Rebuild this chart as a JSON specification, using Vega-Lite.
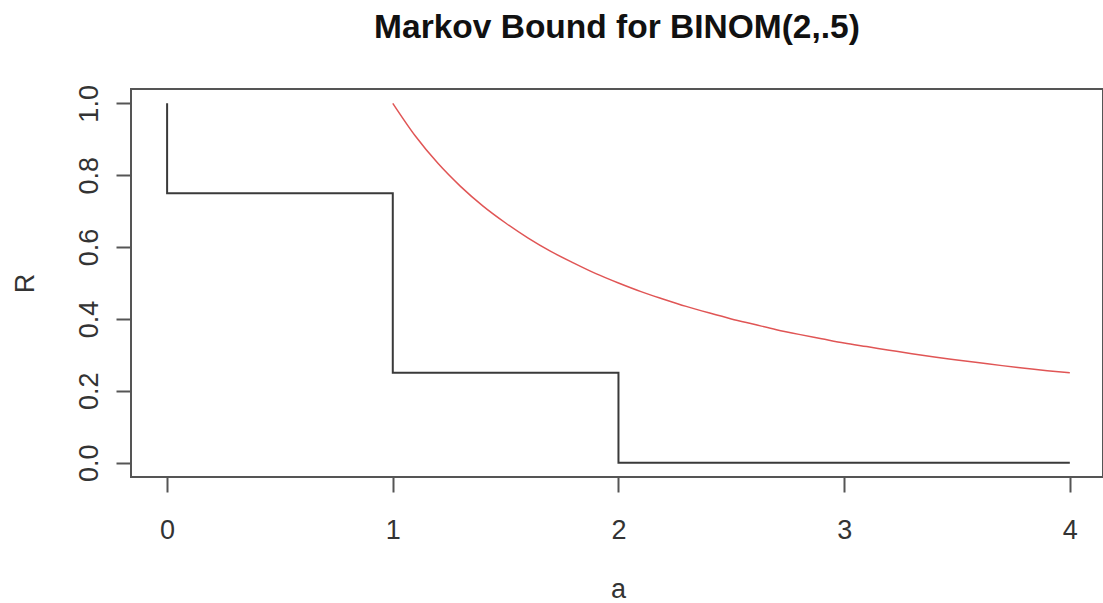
{
  "$schema": "https://vega.github.io/schema/vega-lite/v6.json",
  "width": 972,
  "height": 388,
  "autosize": "none",
  "padding": {"left": 131, "top": 89, "right": 0, "bottom": 126},
  "background": "white",
  "title": {
    "text": "Markov Bound for BINOM(2,.5)",
    "font": "Liberation Sans",
    "fontSize": 33.5,
    "fontWeight": "bold",
    "color": "#111",
    "baseline": "alphabetic",
    "offset": 13,
    "anchor": "middle"
  },
  "config": {
    "view": {"stroke": "#555", "strokeWidth": 2},
    "axis": {
      "labelFont": "Liberation Sans",
      "titleFont": "Liberation Sans",
      "labelFontSize": 27,
      "titleFontSize": 27,
      "labelColor": "#333",
      "titleColor": "#333",
      "titleFontWeight": "normal",
      "tickColor": "#555",
      "tickWidth": 2,
      "tickSize": 15,
      "domain": false,
      "grid": false
    }
  },
  "datasets": {
    "step": [
      {"i": 0, "a": 0, "R": 1},
      {"i": 1, "a": 0, "R": 0.75},
      {"i": 2, "a": 1, "R": 0.75},
      {"i": 3, "a": 1, "R": 0.25},
      {"i": 4, "a": 2, "R": 0.25},
      {"i": 5, "a": 2, "R": 0},
      {"i": 6, "a": 4, "R": 0}
    ],
    "bound": [
      {"a": 1.0, "R": 1.0}, {"a": 1.1, "R": 0.909}, {"a": 1.2, "R": 0.833},
      {"a": 1.3, "R": 0.769}, {"a": 1.4, "R": 0.714}, {"a": 1.5, "R": 0.667},
      {"a": 1.6, "R": 0.625}, {"a": 1.7, "R": 0.588}, {"a": 1.8, "R": 0.556},
      {"a": 1.9, "R": 0.526}, {"a": 2.0, "R": 0.5}, {"a": 2.1, "R": 0.476},
      {"a": 2.2, "R": 0.455}, {"a": 2.3, "R": 0.435}, {"a": 2.4, "R": 0.417},
      {"a": 2.5, "R": 0.4}, {"a": 2.6, "R": 0.385}, {"a": 2.7, "R": 0.37},
      {"a": 2.8, "R": 0.357}, {"a": 2.9, "R": 0.345}, {"a": 3.0, "R": 0.333},
      {"a": 3.1, "R": 0.323}, {"a": 3.2, "R": 0.313}, {"a": 3.3, "R": 0.303},
      {"a": 3.4, "R": 0.294}, {"a": 3.5, "R": 0.286}, {"a": 3.6, "R": 0.278},
      {"a": 3.7, "R": 0.27}, {"a": 3.8, "R": 0.263}, {"a": 3.9, "R": 0.256},
      {"a": 4.0, "R": 0.25}
    ]
  },
  "encoding": {
    "x": {
      "field": "a", "type": "quantitative",
      "scale": {"domain": [-0.16, 4.147], "nice": false, "zero": false},
      "axis": {
        "title": "a",
        "values": [0, 1, 2, 3, 4],
        "format": "d",
        "labelBaseline": "alphabetic",
        "labelPadding": 46,
        "titleBaseline": "bottom",
        "titleY": 126,
        "titleX": 487
      }
    },
    "y": {
      "field": "R", "type": "quantitative",
      "scale": {"domain": [-0.04, 1.04], "nice": false, "zero": false},
      "axis": {
        "title": "R",
        "values": [0, 0.2, 0.4, 0.6, 0.8, 1.0],
        "format": ".1f",
        "labelAngle": 270,
        "labelAlign": "center",
        "labelBaseline": "alphabetic",
        "labelPadding": 19,
        "titleAngle": 270,
        "titleBaseline": "alphabetic",
        "titleX": -98,
        "titleY": 194
      }
    }
  },
  "layer": [
    {
      "data": {"name": "step"},
      "mark": {"type": "line", "color": "#3a3a3a", "strokeWidth": 2, "clip": true},
      "encoding": {"order": {"field": "i", "type": "quantitative"}}
    },
    {
      "data": {"name": "bound"},
      "mark": {"type": "line", "color": "#e05555", "strokeWidth": 1.5, "interpolate": "monotone"},
      "encoding": {}
    }
  ]
}
